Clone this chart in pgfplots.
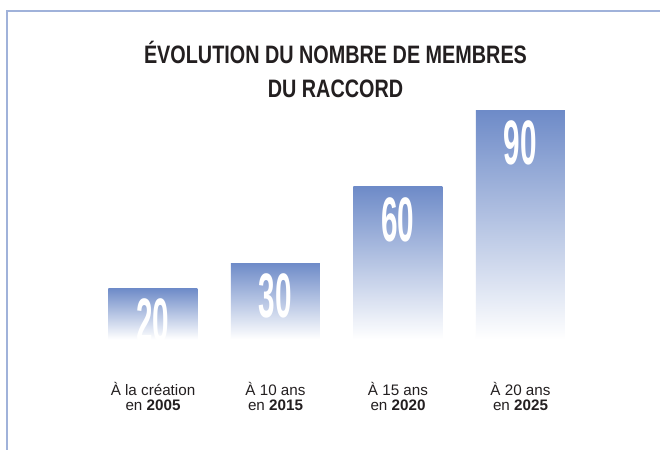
\documentclass[border=0pt]{standalone}
\usepackage{fontspec}
\setmainfont{Liberation Sans}
\usepackage{pgfplots}
\pgfplotsset{compat=1.18}
\definecolor{frame}{RGB}{160,178,218}
\definecolor{bartop}{RGB}{110,139,200}
\definecolor{txt}{RGB}{35,31,32}

\begin{document}
\begin{tikzpicture}
\useasboundingbox (0,0) rectangle (330pt,-225pt);
\fill[white] (0,0) rectangle (330pt,-225pt);
\draw[frame, line width=1pt] (3.25pt,-225pt) -- (3.25pt,-5.25pt) -- (330pt,-5.25pt);
\node[anchor=base, font=\fontsize{12.6}{12.6}\selectfont\bfseries, text=txt, inner sep=0pt] at (167.75pt,-31.5pt) {\scalebox{0.786}[1]{ÉVOLUTION DU NOMBRE DE MEMBRES}};
\node[anchor=base, font=\fontsize{12.6}{12.6}\selectfont\bfseries, text=txt, inner sep=0pt] at (167.75pt,-48.5pt) {\scalebox{0.786}[1]{DU RACCORD}};
\begin{axis}[
  at={(45.875pt,-182.325pt)}, anchor=south west,
  scale only axis, width=245pt, height=139.7pt,
  xmin=-0.5, xmax=3.5, ymin=-10, ymax=100,
  ybar, bar width=44.5pt, bar shift=0pt,
  axis line style={draw=none},
  ytick=\empty,
  xtick={0,1,2,3},
  xticklabels={{À la création\\en \textbf{2005}},{À 10 ans\\en \textbf{2015}},{À 15 ans\\en \textbf{2020}},{À 20 ans\\en \textbf{2025}}},
  major tick length=0pt,
  xticklabel style={align=center, font=\fontsize{7.6}{7.6}\selectfont, text=txt, inner sep=0pt, yshift=-8.6pt},
  nodes near coords={\scalebox{0.473}[1]{\pgfmathprintnumber[assume math mode=true]{\pgfplotspointmeta}}},
  every node near coord/.append style={anchor=north, yshift=-5pt, inner sep=0pt, text=white, font=\fontsize{31.4}{31.4}\selectfont\bfseries},
]
\addplot[draw=none, top color=bartop, bottom color=white] coordinates {(0,20)};
\addplot[draw=none, top color=bartop, bottom color=white] coordinates {(1,30)};
\addplot[draw=none, top color=bartop, bottom color=white] coordinates {(2,60)};
\addplot[draw=none, top color=bartop, bottom color=white] coordinates {(3,90)};
\end{axis}
\end{tikzpicture}
\end{document}
